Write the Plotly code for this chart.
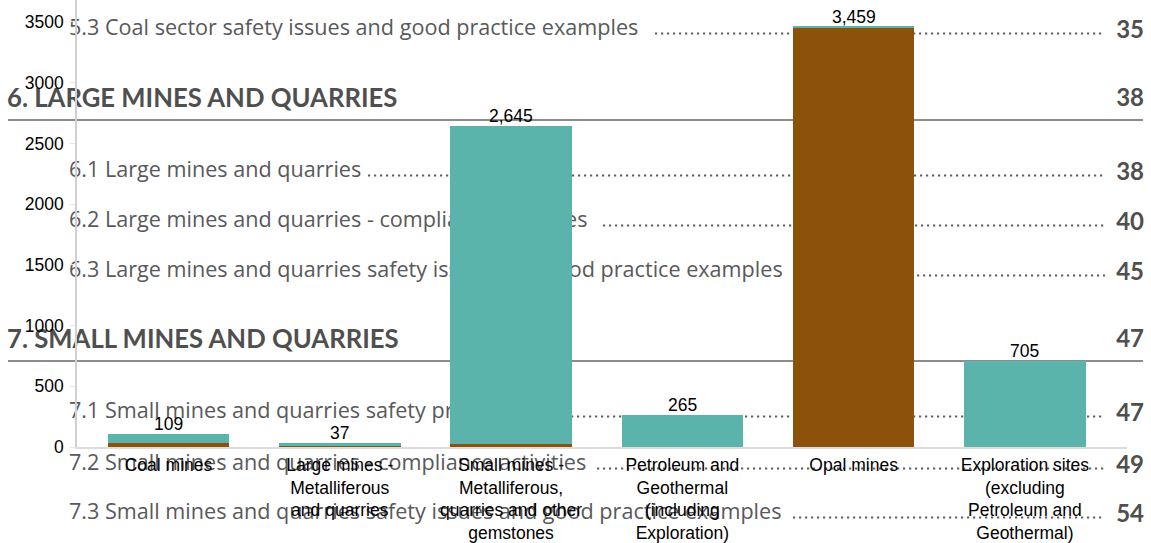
import plotly.graph_objects as go

# ---------------- data ----------------
categories = [
    "Coal mines",
    "Large mines -<br>Metalliferous<br>and quarries",
    "Small mines -<br>Metalliferous,<br>quarries and other<br>gemstones",
    "Petroleum and<br>Geothermal<br>(including<br>Exploration)",
    "Opal mines",
    "Exploration sites<br>(excluding<br>Petroleum and<br>Geothermal)",
]
brown_values = [35, 9, 25, 0, 3451, 0]
teal_values = [74, 28, 2620, 265, 8, 705]
y_tick_values = [0, 500, 1000, 1500, 2000, 2500, 3000, 3500]

# background table-of-contents text (text, page, kind)
toc_entries = [
    ("5.3 Coal sector safety issues and good practice examples", "35", "item"),
    ("6. LARGE MINES AND QUARRIES", "38", "head"),
    ("6.1 Large mines and quarries", "38", "item"),
    ("6.2 Large mines and quarries - compliance activities", "40", "item"),
    ("6.3 Large mines and quarries safety issues and good practice examples", "45", "item"),
    ("7. SMALL MINES AND QUARRIES", "47", "head"),
    ("7.1 Small mines and quarries safety profile", "47", "item"),
    ("7.2 Small mines and quarries - compliance activities", "49", "item"),
    ("7.3 Small mines and quarries safety issues and good practice examples", "54", "item"),
]

# ---------------- layout helpers ----------------
W, H = 1151, 543
ML, MR, MT, MB = 77, 24, 0, 96
PW, PH = W - ML - MR, H - MT - MB


def px_x(px):
    return (px - ML) / PW


def px_y(py):
    return (H - MB - py) / PH


# positions of toc rows (pixel centres), leader starts
toc_y = [28, 96, 170, 220, 270, 337, 411, 463, 512]
toc_leader_start = [655, None, 368, 603, 797, None, 505, 597, 793]
rule_y = [120, 361]
LABEL_PAD = 4  # shape labels sit ~4px inside their box

TOC_GREY = "#58595b"
TOC_DARK = "#4f4f4f"
teal = "#5ab4ac"
brown = "#8c510a"
chart_font = "Liberation Sans, Arial, sans-serif"

totals = [b + t for b, t in zip(brown_values, teal_values)]

fig = go.Figure()
fig.add_trace(go.Bar(x=categories, y=brown_values, name="Brown series",
                     marker=dict(color=brown, line=dict(width=0)), hoverinfo="x+y"))
fig.add_trace(go.Bar(x=categories, y=teal_values, name="Teal series",
                     marker=dict(color=teal, line=dict(width=0)), hoverinfo="x+y"))

annotations = []
for c, t in zip(categories, totals):
    annotations.append(dict(x=c, y=t, text=f"{t:,}", showarrow=False, yanchor="bottom", yshift=-2,
                            font=dict(family=chart_font, size=17.5, color="black")))

shapes = []
for (text, page, kind), yc, lead in zip(toc_entries, toc_y, toc_leader_start):
    if kind == "head":
        x_left = 8
        font = dict(family="Lato, sans-serif", size=25.7, color=TOC_DARK)
        label_text = f"<b>{text}</b>"
    else:
        x_left = 70
        font = dict(family="Open Sans, sans-serif", size=21.6, color=TOC_GREY)
        label_text = text
    shapes.append(dict(type="rect", xref="paper", yref="paper", layer="below",
                       x0=px_x(x_left - LABEL_PAD), x1=px_x(x_left + 900),
                       y0=px_y(yc + 15), y1=px_y(yc - 15),
                       line=dict(width=0, color="rgba(0,0,0,0)"), fillcolor="rgba(0,0,0,0)",
                       label=dict(text=label_text, textposition="middle left", padding=0,
                                  font=font)))
    shapes.append(dict(type="rect", xref="paper", yref="paper", layer="below",
                       x0=px_x(1043), x1=px_x(1143 + LABEL_PAD),
                       y0=px_y(yc + 15), y1=px_y(yc - 15),
                       line=dict(width=0, color="rgba(0,0,0,0)"), fillcolor="rgba(0,0,0,0)",
                       label=dict(text=f"<b>{page}</b>", textposition="middle right", padding=0,
                                  font=dict(family="Lato, sans-serif", size=24, color=TOC_DARK))))
    if lead is not None:
        shapes.append(dict(type="line", xref="paper", yref="paper", layer="below",
                           x0=px_x(lead), x1=px_x(1105),
                           y0=px_y(yc + 5.5), y1=px_y(yc + 5.5),
                           line=dict(color="#606060", width=2.2, dash="2.2px,3.8px")))
for ry in rule_y:
    shapes.append(dict(type="line", xref="paper", yref="paper", layer="below",
                       x0=px_x(8), x1=px_x(1143), y0=px_y(ry), y1=px_y(ry),
                       line=dict(color="#666666", width=1.5)))

fig.update_layout(
    width=W, height=H,
    margin=dict(l=ML, r=MR, t=MT, b=MB, pad=0, autoexpand=False),
    barmode="stack",
    bargap=0.29,
    showlegend=False,
    paper_bgcolor="white",
    plot_bgcolor="rgba(0,0,0,0)",
    font=dict(family=chart_font, size=17.5, color="black"),
    annotations=annotations,
    shapes=shapes,
)
fig.update_xaxes(type="category", range=[-0.534, 5.596], showline=True, linecolor="#dcdcdc",
                 linewidth=1.5, ticks="", showgrid=False, zeroline=False, ticklabelstandoff=1,
                 automargin=False,
                 tickfont=dict(family=chart_font, size=17.5, color="black"))
fig.update_yaxes(range=[0, 3681], tickvals=y_tick_values, ticktext=[str(v) for v in y_tick_values],
                 showline=True, linecolor="#d0d0d0", linewidth=1.5, ticks="outside", ticklen=5,
                 tickcolor="#e6e6e6", showgrid=False, zeroline=False, ticklabelstandoff=3,
                 automargin=False,
                 tickfont=dict(family=chart_font, size=17.5, color="black"))

fig.write_html("out.html", config={"displayModeBar": False},
               post_script="document.body.style.margin='0px';")
